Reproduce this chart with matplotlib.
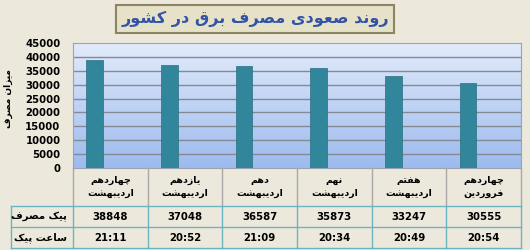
import numpy as np
import matplotlib as mpl
import matplotlib.pyplot as plt
from matplotlib.lines import Line2D

mpl.rcParams['font.family'] = ['DejaVu Sans']

# Data
categories = ['چهاردهم\nاردیبهشت', 'یازدهم\nاردیبهشت', 'دهم\nاردیبهشت',
              'نهم\nاردیبهشت', 'هفتم\nاردیبهشت', 'چهاردهم\nفروردین']
peak_load = [38848, 37048, 36587, 35873, 33247, 30555]
peak_time = ['21:11', '20:52', '21:09', '20:34', '20:49', '20:54']
row_labels = ['پیک مصرف', 'ساعت پیک']
title = 'روند صعودی مصرف برق در کشور'
ylabel = 'میزان مصرف'
yticks = [0, 5000, 10000, 15000, 20000, 25000, 30000, 35000, 40000, 45000]

# peak hour as decimal hours (second, tiny series)
peak_hour = [int(t[:2]) + int(t[3:]) / 60 for t in peak_time]

# simple Arabic/Persian shaping: presentation forms (iso, fin, ini, med)
FORMS = {
    'ا': ('\uFE8D', '\uFE8E', None, None),
    'ب': ('\uFE8F', '\uFE90', '\uFE91', '\uFE92'),
    'پ': ('\uFB56', '\uFB57', '\uFB58', '\uFB59'),
    'ت': ('\uFE95', '\uFE96', '\uFE97', '\uFE98'),
    'چ': ('\uFB7A', '\uFB7B', '\uFB7C', '\uFB7D'),
    'د': ('\uFEA9', '\uFEAA', None, None),
    'ر': ('\uFEAD', '\uFEAE', None, None),
    'ز': ('\uFEAF', '\uFEB0', None, None),
    'س': ('\uFEB1', '\uFEB2', '\uFEB3', '\uFEB4'),
    'ش': ('\uFEB5', '\uFEB6', '\uFEB7', '\uFEB8'),
    'ص': ('\uFEB9', '\uFEBA', '\uFEBB', '\uFEBC'),
    'ع': ('\uFEC9', '\uFECA', '\uFECB', '\uFECC'),
    'ف': ('\uFED1', '\uFED2', '\uFED3', '\uFED4'),
    'ق': ('\uFED5', '\uFED6', '\uFED7', '\uFED8'),
    'ک': ('\uFB8E', '\uFB8F', '\uFB90', '\uFB91'),
    'م': ('\uFEE1', '\uFEE2', '\uFEE3', '\uFEE4'),
    'ن': ('\uFEE5', '\uFEE6', '\uFEE7', '\uFEE8'),
    'و': ('\uFEED', '\uFEEE', None, None),
    'ه': ('\uFEE9', '\uFEEA', '\uFEEB', '\uFEEC'),
    'ی': ('\uFBFC', '\uFBFD', '\uFBFE', '\uFBFF'),
}


def shape_line(s):
    out = []
    for i, ch in enumerate(s):
        if ch not in FORMS:
            out.append(ch)
            continue
        iso, fin, ini, med = FORMS[ch]
        prev = s[i - 1] if i > 0 else None
        nxt = s[i + 1] if i < len(s) - 1 else None
        jp = prev in FORMS and FORMS[prev][2] is not None
        jn = nxt in FORMS and ini is not None
        if jp and jn:
            out.append(med)
        elif jp:
            out.append(fin)
        elif jn:
            out.append(ini)
        else:
            out.append(iso)
    return ''.join(reversed(out))


def fa(s):
    return '\n'.join(shape_line(l) for l in s.split('\n'))


W, H = 530, 250
fig = plt.figure(figsize=(5.3, 2.5), dpi=100, facecolor='#ece9dc')
x0, x1, ytop, ybot = 73, 521, 43, 168
ax = fig.add_axes([x0 / W, 1 - ybot / H, (x1 - x0) / W, (ybot - ytop) / H])

n = len(categories)
x = np.arange(n)
ax.set_xlim(-0.5, n - 0.5)
ax.set_ylim(0, 45000)

# gradient background
grad = np.linspace(0, 1, 100).reshape(-1, 1)
cmap = mpl.colors.LinearSegmentedColormap.from_list('bg', ['#9dbbef', '#e2ebfa'])
ax.imshow(grad, aspect='auto', cmap=cmap, origin='lower',
          extent=(-0.5, n - 0.5, 0, 45000), zorder=0)

for yv in yticks[1:-1]:
    ax.axhline(yv, color='#848a94', lw=1.0, zorder=1)

ax.bar(x - 0.21, peak_load, width=0.22, color='#31869b', edgecolor='#2a7080',
       lw=0.5, zorder=3)
ax.bar(x + 0.01, peak_hour, width=0.21, color='#31869b', zorder=3)

ax.set_yticks(yticks)
ax.set_yticklabels([str(v) for v in yticks], fontsize=7.3, fontweight='bold')
ax.tick_params(axis='y', length=0, pad=9)
ax.set_xticks([])
for s in ax.spines.values():
    s.set_color('#9aa4b0')

# y label
fig.text(8 / W, 1 - 98 / H, fa(ylabel), rotation=90, ha='center', va='center',
         fontsize=6.5, fontweight='bold')

# title with box
fig.text(255 / W, 1 - 19 / H, fa(title), ha='center', va='center',
         fontsize=11.5, fontweight='bold', color='#3352a8',
         bbox=dict(boxstyle='square,pad=0.35', facecolor='#e6e2c8',
                   edgecolor='#8c8462', lw=1.5))

# data table below plot
cw = (x1 - x0) / n
row_y = [168, 206, 227, 248]
teal = '#6cb4c2'


def fl(xa, ya, xb, yb, c, lw=1.0):
    fig.add_artist(Line2D([xa / W, xb / W], [1 - ya / H, 1 - yb / H],
                          color=c, lw=lw, transform=fig.transFigure))


for i in range(n + 1):
    xv = x0 + i * cw
    fl(xv, row_y[0], xv, row_y[1], '#a8a8a8')
    fl(xv, row_y[1], xv, row_y[3], teal)
fl(11, row_y[1], 11, row_y[3], teal)
for yv in row_y[1:]:
    fl(11, yv, x1, yv, teal)

for i, cat in enumerate(categories):
    xc = (x0 + (i + 0.5) * cw) / W
    fig.text(xc, 1 - 187 / H, fa(cat), ha='center', va='center', fontsize=6.8,
             fontweight='bold', linespacing=1.6)
    fig.text(xc, 1 - 217 / H, str(peak_load[i]), ha='center', va='center',
             fontsize=7.3, fontweight='bold')
    fig.text(xc, 1 - 238 / H, peak_time[i], ha='center', va='center',
             fontsize=7.3, fontweight='bold')

for j, lab in enumerate(row_labels):
    fig.text(67 / W, 1 - (217 + 21 * j) / H, fa(lab), ha='right', va='center',
             fontsize=7.3, fontweight='bold')

fig.savefig('out.png', dpi=100, facecolor=fig.get_facecolor())
